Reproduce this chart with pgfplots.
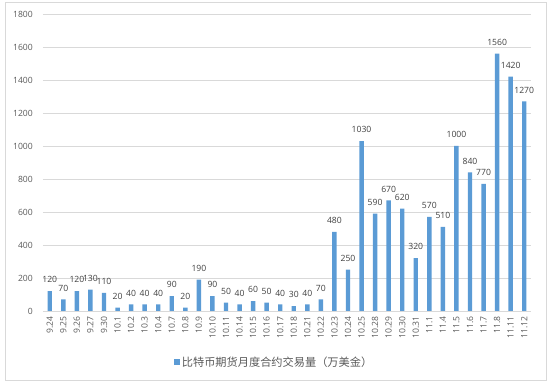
\documentclass[border=0pt]{standalone}
\usepackage{pgfplots}
\pgfplotsset{compat=1.18}
\usepackage{fontspec}
\setmainfont{Open Sans}
\newfontfamily\cjk{Noto Sans CJK SC}
\definecolor{barblue}{HTML}{5B9BD5}
\definecolor{gridgray}{HTML}{D9D9D9}
\definecolor{txtgray}{HTML}{595959}
\definecolor{lblgray}{HTML}{404040}
\begin{document}
\begin{tikzpicture}
\useasboundingbox (-43bp,-75bp) rectangle (507bp,311bp);
\draw[gridgray, line width=0.75bp] (-38bp,-69bp) rectangle (503bp,309bp);
\begin{axis}[
  scale only axis, width=488bp, height=297bp,
  xmin=-0.5, xmax=35.5, ymin=0, ymax=1800,
  ytick={0,200,...,1800},
  xtick=data,
  xticklabels={9.24,9.25,9.26,9.27,9.30,10.1,10.2,10.3,10.4,10.7,10.8,10.9,10.10,10.11,10.14,10.15,10.16,10.17,10.18,10.21,10.22,10.23,10.24,10.25,10.28,10.29,10.30,10.31,11.1,11.4,11.5,11.6,11.7,11.8,11.11,11.12},
  axis line style={draw=none},
  major tick length=0pt,
  ymajorgrids, grid style={gridgray, line width=0.75bp},
  ybar, bar width=4.4bp,
  /pgf/number format/assume math mode=true,
  /pgf/number format/1000 sep={},
  ticklabel style={font=\fontsize{8.6bp}{10bp}\selectfont, text=txtgray},
  xticklabel style={rotate=90, anchor=east, inner sep=0pt},
  xticklabel shift=5bp,
  yticklabel style={anchor=east, inner sep=0pt},
  yticklabel shift=10bp,
  nodes near coords,
  nodes near coords style={font=\fontsize{8.6bp}{10bp}\selectfont, text=lblgray, anchor=south, inner sep=0pt, yshift=8bp},
  legend style={at={(0.474,-0.172)}, anchor=center, draw=none, fill=none, font=\cjk\fontsize{11.2bp}{13bp}\selectfont, text=txtgray},
  legend image code/.code={\fill[barblue] (0bp,-2.7bp) rectangle (5.5bp,2.7bp);},
]
\addplot[fill=barblue, draw=none] coordinates {
(0,120) (1,70) (2,120) (3,130) (4,110) (5,20) (6,40) (7,40) (8,40) (9,90)
(10,20) (11,190) (12,90) (13,50) (14,40) (15,60) (16,50) (17,40) (18,30) (19,40)
(20,70) (21,480) (22,250) (23,1030) (24,590) (25,670) (26,620) (27,320) (28,570) (29,510)
(30,1000) (31,840) (32,770) (33,1560) (34,1420) (35,1270)
};
\addlegendentry{比特币期货月度合约交易量（万美金）}
\end{axis}
\end{tikzpicture}
\end{document}
